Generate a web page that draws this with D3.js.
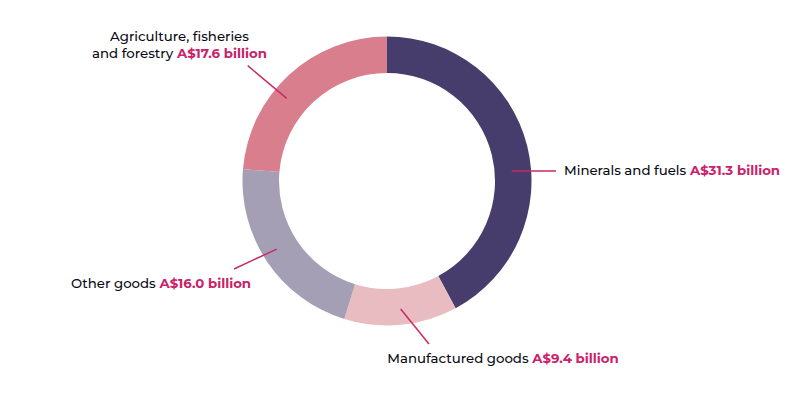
<!DOCTYPE html>
<html><head><meta charset="utf-8">
<script src="https://cdn.jsdelivr.net/npm/d3@7"></script>
<style>
html,body{margin:0;padding:0;background:#fff;}
text{font-family:"Montserrat","Open Sans","Noto Sans",sans-serif;}
</style></head>
<body><svg id="chart" width="795" height="393"></svg>
<script>
const categories = ["Minerals and fuels", "Manufactured goods", "Other goods", "Agriculture, fisheries and forestry"];
const values = [31.3, 9.4, 16.0, 17.6];
const valueLabels = ["A$31.3 billion", "A$9.4 billion", "A$16.0 billion", "A$17.6 billion"];
const colors = ["#463d6c", "#e9bcc2", "#a59fb6", "#d87e8c"];

const svg = d3.select("#chart");
const cx = 387, cy = 181, outerR = 144.5, innerR = 108;
const g = svg.append("g").attr("transform", `translate(${cx},${cy})`);

const pie = d3.pie().sort(null).value(d => d.v);
const data = categories.map((c, i) => ({c, v: values[i], label: valueLabels[i], color: colors[i]}));
const arcs = pie(data);
const arc = d3.arc().innerRadius(innerR).outerRadius(outerR);

g.selectAll("path.slice").data(arcs).enter().append("path")
  .attr("class", "slice")
  .attr("d", arc)
  .attr("fill", d => d.data.color);

const lineColor = "#c92a63";
const pink = "#c9226a";
const leaders = [
  {a: 85.4, r: 125, ex: 556, ey: 171},
  {a: 173.9, r: 128.7, ex: 429, ey: 344},
  {a: 238.3, r: 129.6, ex: 234, ey: 269},
  {a: 309.5, r: 130, ex: 247.7, ey: 65.7}
];
leaders.forEach(l => {
  const rad = l.a * Math.PI / 180;
  const x = cx + l.r * Math.sin(rad), y = cy - l.r * Math.cos(rad);
  svg.append("line").attr("x1", x).attr("y1", y).attr("x2", l.ex).attr("y2", l.ey)
    .attr("stroke", lineColor).attr("stroke-width", 1.5);
});

const fs = 13.3;
function label(x, y, anchor, lines) {
  const t = svg.append("text").attr("x", x).attr("y", y).attr("text-anchor", anchor)
    .attr("font-size", fs).attr("fill", "#0a0a14").attr("font-weight", 500);
  lines.forEach((ln, i) => {
    const ts = t.append("tspan").attr("x", x).attr("dy", i === 0 ? 0 : 17.6);
    ts.append("tspan").text(ln.text);
    if (ln.value) ts.append("tspan").attr("fill", pink).attr("font-weight", 700).text(" " + ln.value);
  });
}
label(564, 174.7, "start", [{text: categories[0], value: valueLabels[0]}]);
label(387.3, 363.3, "start", [{text: categories[1], value: valueLabels[1]}]);
label(71, 288.3, "start", [{text: categories[2], value: valueLabels[2]}]);
label(179.5, 40.7, "middle", [{text: "Agriculture, fisheries"}, {text: "and forestry", value: valueLabels[3]}]);
</script></body></html>
